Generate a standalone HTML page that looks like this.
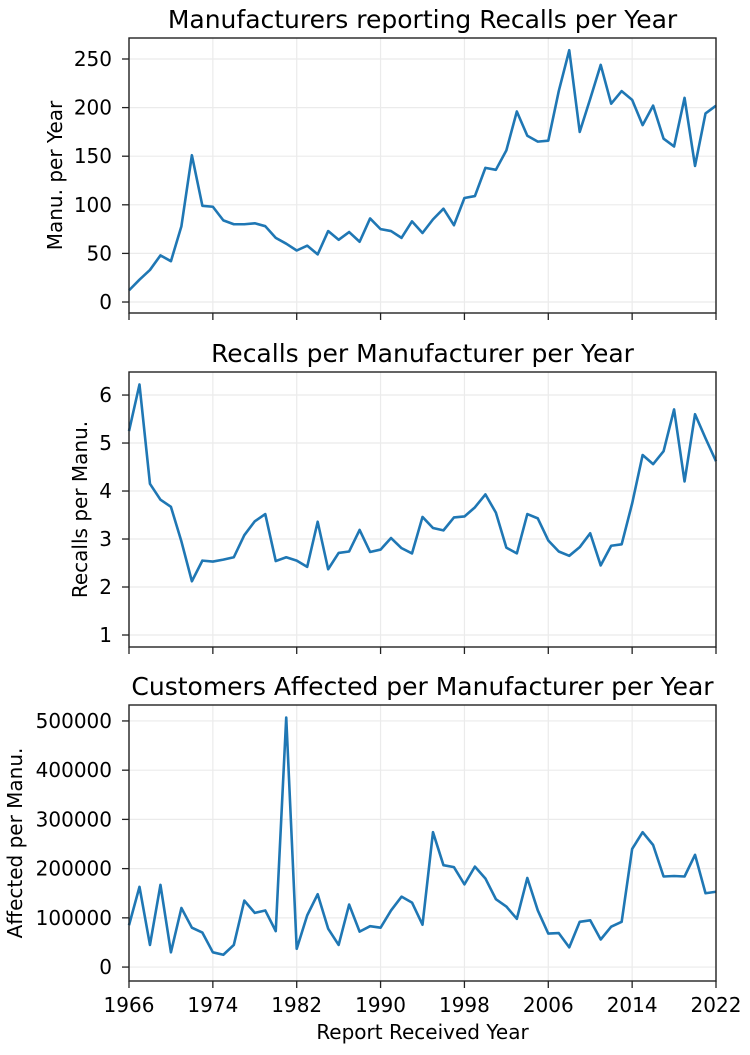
<!DOCTYPE html>
<html><head><meta charset="utf-8"><style>
body{margin:0;background:#fff;}
svg text{font-family:"DejaVu Sans","Liberation Sans",sans-serif;fill:#000;}
</style></head><body>
<svg id="chart" width="750" height="1050" viewBox="0 0 750 1050" xmlns="http://www.w3.org/2000/svg"></svg>
<script>
const years = [];
for (let y = 1966; y <= 2022; y++) years.push(y);
const manufacturersPerYear = [12,23,33,48,42,78,151,99,98,84,80,80,81,78,66,60,53,58,49,73,64,72,62,86,75,73,66,83,71,85,96,79,107,109,138,136,156,196,171,165,166,217,259,175,209,244,204,217,208,182,202,168,160,210,140,194,202];
const recallsPerManufacturer = [5.25,6.22,4.15,3.82,3.67,2.95,2.12,2.55,2.53,2.57,2.62,3.08,3.37,3.52,2.54,2.62,2.55,2.42,3.36,2.37,2.71,2.74,3.19,2.73,2.78,3.02,2.81,2.70,3.46,3.23,3.18,3.45,3.47,3.66,3.93,3.55,2.82,2.70,3.52,3.43,2.97,2.74,2.65,2.83,3.12,2.45,2.86,2.89,3.74,4.75,4.56,4.83,5.70,4.20,5.60,5.10,4.62];
const affectedPerManufacturer = [85000,163000,45000,167000,30000,120000,80000,70000,30000,25000,45000,135000,110000,115000,73000,507000,37000,105000,148000,78000,45000,127000,72000,83000,80000,115000,143000,131000,86000,274000,207000,203000,168000,204000,180000,138000,123000,98000,181000,115000,68000,69000,40000,92000,95000,56000,82000,92000,240000,274000,248000,184000,185000,184000,228000,150000,153000];
const xTicks = [1966,1974,1982,1990,1998,2006,2014,2022];
const ticks1 = [0,50,100,150,200,250];
const ticks2 = [1,2,3,4,5,6];
const ticks3 = [0,100000,200000,300000,400000,500000];

const svg = document.getElementById('chart');
const NS = 'http://www.w3.org/2000/svg';
const L = 129, R = 716;
const TF = 20;
function mk(tag, attrs, parent){ const e = document.createElementNS(NS, tag); for (const k in attrs) e.setAttribute(k, attrs[k]); (parent||svg).appendChild(e); return e; }
const xs = v => L + (v - 1966) / (2022 - 1966) * (R - L);

const panels = [
 {name:'manufacturers', top:38, bot:313, ymin:-11.3, ymax:271.6, data:manufacturersPerYear, ticks:ticks1, title:'Manufacturers reporting Recalls per Year', ylabel:'Manu. per Year', lx:55, xl:false},
 {name:'recalls', top:372, bot:647, ymin:0.75, ymax:6.48, data:recallsPerManufacturer, ticks:ticks2, title:'Recalls per Manufacturer per Year', ylabel:'Recalls per Manu.', lx:80, xl:false},
 {name:'affected', top:705, bot:981, ymin:-28300, ymax:532400, data:affectedPerManufacturer, ticks:ticks3, title:'Customers Affected per Manufacturer per Year', ylabel:'Affected per Manu.', lx:15, xl:true}
];
panels.forEach(p => {
  const g = mk('g', {});
  
  
  const ys = v => p.bot - (v - p.ymin) / (p.ymax - p.ymin) * (p.bot - p.top);
  xTicks.forEach(t => {
    const gl = mk('line', {x1:xs(t), x2:xs(t), y1:p.top, y2:p.bot, stroke:'#ebebeb', 'stroke-width':1.2}, g);
    
    
    mk('line', {x1:xs(t), x2:xs(t), y1:p.bot, y2:p.bot+7, stroke:'#222', 'stroke-width':1.3}, g);
    if (p.xl) {
      const tx = mk('text', {x:xs(t), y:p.bot+31, 'font-size':TF, 'text-anchor':'middle'}, g);
      tx.textContent = t;
      
      
    }
  });
  p.ticks.forEach(t => {
    const y = ys(t);
    const gl = mk('line', {x1:L, x2:R, y1:y, y2:y, stroke:'#ebebeb', 'stroke-width':1.2}, g);
    
    
    mk('line', {x1:L-7, x2:L, y1:y, y2:y, stroke:'#222', 'stroke-width':1.3}, g);
    const tx = mk('text', {x:L-17, y:y+7, 'font-size':TF, 'text-anchor':'end'}, g);
    tx.textContent = t;
    
    
  });
  const d = p.data.map((v,i) => (i?'L':'M') + xs(years[i]).toFixed(2) + ',' + ys(v).toFixed(2)).join(' ');
  const path = mk('path', {d:d, fill:'none', stroke:'#1f77b4', 'stroke-width':2.6, 'stroke-linejoin':'round'}, g);
  
  
  const fr = mk('rect', {x:L, y:p.top, width:R-L, height:p.bot-p.top, fill:'none', stroke:'#222', 'stroke-width':1.4}, g);
  
  
  const tt = mk('text', {x:(L+R)/2, y:p.top-10, 'font-size':25, 'text-anchor':'middle'}, g);
  tt.textContent = p.title;
  
  
  const yl = mk('text', {x:0, y:7, 'font-size':TF, 'text-anchor':'middle', transform:'translate(' + p.lx + ',' + ((p.top+p.bot)/2) + ') rotate(-90)'}, g);
  yl.textContent = p.ylabel;
  
  
});
const xt = mk('text', {x:(L+R)/2, y:1039, 'font-size':TF, 'text-anchor':'middle'});
xt.textContent = 'Report Received Year';


</script>
</body></html>
